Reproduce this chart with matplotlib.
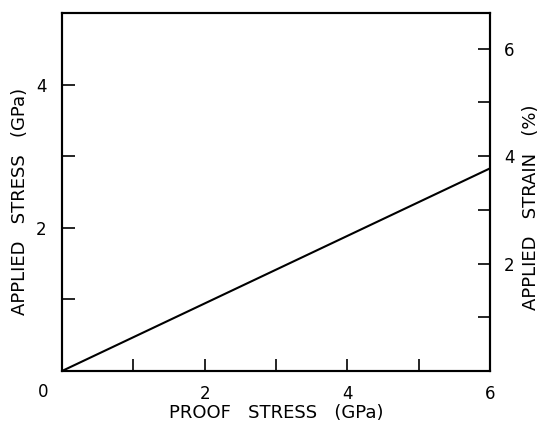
import matplotlib
matplotlib.use("Agg")
import matplotlib.pyplot as plt
import numpy as np

# Data
proof_stress = [0.0, 6.0]          # GPa
applied_stress = [0.0, 2.83]       # GPa
modulus_gpa = 75.0                 # strain axis = stress / modulus
x_ticks_major = [2, 4, 6]
x_ticks_minor = [1, 2, 3, 4, 5]
y_ticks_labeled = [2, 4]
y_ticks_all = [1, 2, 3, 4]
strain_ticks_labeled = [2, 4, 6]
strain_ticks_all = [1, 2, 3, 4, 5, 6]

plt.rcParams['font.family'] = ['DejaVu Sans']

fig = plt.figure(figsize=(5.42, 4.28), dpi=100)
ax = fig.add_axes([62/542, 1 - 371/428, (490-62)/542, (371-13)/428])

ax.plot(proof_stress, applied_stress, color='black', lw=1.5)
ax.set_xlim(0, 6)
ax.set_ylim(0, 5)

for s in ax.spines.values():
    s.set_linewidth(1.5)

fs = 12
lfs = 13
ax.set_xticks(x_ticks_minor)
ax.set_xticklabels(['' if t not in x_ticks_major else str(t) for t in x_ticks_minor])
ax.set_xticks([6], minor=True)
ax.tick_params(axis='x', which='major', direction='in', length=9, width=1.2, pad=10, labelsize=fs)
ax.tick_params(axis='x', which='minor', direction='in', length=0, pad=10, labelsize=fs)
ax.set_xticklabels(['6'], minor=True)

ax.set_yticks(y_ticks_all)
ax.set_yticklabels([str(t) if t in y_ticks_labeled else '' for t in y_ticks_all])
ax.tick_params(axis='y', direction='in', length=9, width=1.2, pad=11, labelsize=fs)

ax.text(-0.27, -0.29, '0', fontsize=fs, ha='center', va='center')

ax2 = ax.twinx()
ax2.set_ylim(0, 5 / modulus_gpa * 100)
ax2.set_yticks(strain_ticks_all)
ax2.set_yticklabels([str(t) if t in strain_ticks_labeled else '' for t in strain_ticks_all])
ax2.tick_params(axis='y', direction='in', length=9, width=1.2, pad=10, labelsize=fs)
for s in ax2.spines.values():
    s.set_linewidth(1.5)

ax.set_xlabel('PROOF   STRESS   (GPa)', fontsize=lfs)
ax.xaxis.set_label_coords(0.5, -(404-371)/358)
ax.set_ylabel('APPLIED   STRESS   (GPa)', fontsize=lfs)
ax.yaxis.set_label_coords(-(62-29)/428, (371-201)/358)
ax2.set_ylabel('APPLIED   STRAIN   (%)', fontsize=lfs)
ax2.yaxis.set_label_coords(1 + (522-490)/428, (371-207)/358)

fig.savefig('out.png', dpi=100)
